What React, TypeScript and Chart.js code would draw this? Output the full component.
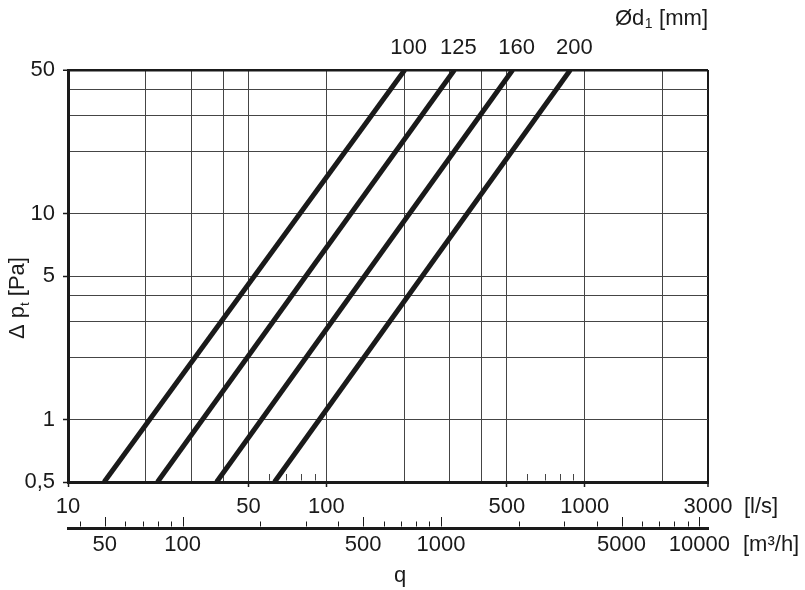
import React, { useEffect, useRef } from 'react';
import { Chart, registerables } from 'chart.js';

Chart.register(...registerables);

const FONT = '"Liberation Sans", Arial, Helvetica, sans-serif';
const INK = '#1a1a1a';
const GRID = '#454545';
const FONT_SIZE = 22;

// Duct diameters [mm] and the flow q [l/s] where each line meets Δp = 0.5 Pa and Δp = 50 Pa
const diameters = [100, 125, 160, 200];
const dpEnds = [0.5, 50];
const flowAtMinDp = [13.8, 22.2, 37.6, 63.0];
const flowAtMaxDp = [201, 313, 526, 879];

// Axis ranges
const X_MIN = 10;
const X_MAX = 3000;
const Y_MIN = 0.5;
const Y_MAX = 50;
const LS_TO_M3H = 3.6;

// Ticks / grid
const xTickValues = [10, 20, 30, 40, 50, 100, 200, 300, 400, 500, 1000, 2000, 3000];
const xLabelValues = [10, 50, 100, 500, 1000, 3000];
const xMinorValues = [60, 70, 80, 90, 600, 700, 800, 900];
const yTickValues = [0.5, 1, 2, 3, 4, 5, 10, 20, 30, 40, 50];
const yLabelValues = [0.5, 1, 5, 10, 50];
const m3hLabelValues = [50, 100, 500, 1000, 5000, 10000];
const m3hMinorValues = [40, 60, 70, 80, 90, 200, 300, 400, 600, 700, 800, 900, 2000, 3000, 4000, 6000, 7000, 8000, 9000];

const font = (size: number) => `${size}px ${FONT}`;

const X_TICK_PAD = 7;
const X2_TICK_PAD = 4;

const decorations = {
  id: 'decorations',
  afterDraw(chart: any) {
    const { ctx, chartArea: ca, scales } = chart;
    const sx = scales.x;
    const sy = scales.y;
    const sx2 = scales.x2;
    ctx.save();

    // short inner ticks on the l/s axis
    ctx.strokeStyle = GRID;
    ctx.lineWidth = 1;
    ctx.beginPath();
    xMinorValues.forEach((v) => {
      const px = Math.round(sx.getPixelForValue(v)) + 0.5;
      ctx.moveTo(px, ca.bottom - 1.5);
      ctx.lineTo(px, ca.bottom - 8);
    });
    ctx.stroke();

    // upward ticks on the m3/h axis
    const base = sx2.top - 1.5;
    ctx.strokeStyle = INK;
    ctx.lineWidth = 1;
    ctx.beginPath();
    m3hMinorValues.forEach((v) => {
      const px = Math.round(sx2.getPixelForValue(v)) + 0.5;
      ctx.moveTo(px, base);
      ctx.lineTo(px, base - 5);
    });
    m3hLabelValues.forEach((v) => {
      const px = Math.round(sx2.getPixelForValue(v)) + 0.5;
      ctx.moveTo(px, base);
      ctx.lineTo(px, base - 9.5);
    });
    ctx.stroke();

    ctx.fillStyle = INK;
    ctx.font = font(FONT_SIZE);
    ctx.textBaseline = 'middle';

    // unit labels
    ctx.textAlign = 'left';
    ctx.fillText('[l/s]', ca.right + 36, sx.top + 5 + X_TICK_PAD + FONT_SIZE * 0.6);
    ctx.fillText('[m³/h]', ca.right + 35, sx2.top + X2_TICK_PAD + FONT_SIZE * 0.6);

    // q title
    ctx.textAlign = 'center';
    ctx.textBaseline = 'alphabetic';
    ctx.fillText('q', 400, 582);

    // diameter labels above the lines
    ctx.textBaseline = 'middle';
    ctx.textAlign = 'center';
    diameters.forEach((d, i) => {
      const px = sx.getPixelForValue(flowAtMaxDp[i]) + 4;
      ctx.fillText(String(d), px, ca.top - 22);
    });

    // Ød1 [mm]
    {
      const big = font(FONT_SIZE);
      const small = font(14);
      ctx.textAlign = 'left';
      ctx.font = big;
      const w1 = ctx.measureText('Ød').width;
      const w3 = ctx.measureText(' [mm]').width;
      ctx.font = small;
      const w2 = ctx.measureText('1').width + 1;
      let xs = ca.right - (w1 + w2 + w3);
      const yy = 19;
      ctx.font = big;
      ctx.fillText('Ød', xs, yy);
      xs += w1;
      ctx.font = small;
      ctx.fillText('1', xs + 0.5, yy + 5);
      xs += w2;
      ctx.font = big;
      ctx.fillText(' [mm]', xs, yy);
    }

    // y-axis title Δ p_t [Pa]
    {
      const big = font(FONT_SIZE);
      const small = font(13);
      ctx.save();
      ctx.translate(24, (sy.top + sy.bottom) / 2 + 22);
      ctx.rotate(-Math.PI / 2);
      ctx.textBaseline = 'alphabetic';
      ctx.textAlign = 'left';
      ctx.font = big;
      const w1 = ctx.measureText('Δ p').width;
      const w3 = ctx.measureText(' [Pa]').width;
      ctx.font = small;
      const w2 = ctx.measureText('t').width;
      let xs = -(w1 + w2 + w3) / 2;
      ctx.font = big;
      ctx.fillText('Δ p', xs, 0);
      xs += w1;
      ctx.font = small;
      ctx.fillText('t', xs, 5);
      xs += w2;
      ctx.font = big;
      ctx.fillText(' [Pa]', xs, 0);
      ctx.restore();
    }

    ctx.restore();
  },
};

export default function App() {
  const canvasRef = useRef<HTMLCanvasElement | null>(null);

  useEffect(() => {
    if (!canvasRef.current) return;
    const datasets = diameters.map((d, i) => ({
      label: `${d} mm`,
      data: [
        { x: flowAtMinDp[i], y: dpEnds[0] },
        { x: flowAtMaxDp[i], y: dpEnds[1] },
      ],
      showLine: true,
      borderColor: INK,
      backgroundColor: INK,
      borderWidth: 5,
      pointRadius: 0,
      fill: false,
      xAxisID: 'x',
      yAxisID: 'y',
    }));

    const tickFont = { family: FONT, size: FONT_SIZE };

    const chart = new Chart(canvasRef.current, {
      type: 'scatter',
      data: { datasets },
      options: {
        animation: false,
        responsive: false,
        devicePixelRatio: 1,
        layout: { padding: { top: 70, left: 8, right: 97, bottom: 0 } },
        plugins: { legend: { display: false }, tooltip: { enabled: false } },
        scales: {
          x: {
            type: 'logarithmic',
            position: 'bottom',
            weight: 0,
            min: X_MIN,
            max: X_MAX,
            afterBuildTicks: (s: any) => {
              s.ticks = xTickValues.map((v) => ({ value: v }));
            },
            afterFit: (s: any) => {
              s.height = 46;
            },
            grid: {
              color: (c: any) => {
                const v = c.tick ? c.tick.value : null;
                if (v === X_MIN) return 'rgba(0,0,0,0)';
                if (v === X_MAX) return INK;
                return GRID;
              },
              lineWidth: (c: any) => (c.tick && c.tick.value === X_MAX ? 2 : 1),
              drawTicks: true,
              tickLength: 5,
              tickWidth: 1.5,
              tickColor: (c: any) => (c.tick && xLabelValues.includes(c.tick.value) ? INK : 'rgba(0,0,0,0)'),
            },
            border: { color: INK, width: 3 },
            ticks: {
              autoSkip: false,
              maxRotation: 0,
              minRotation: 0,
              padding: X_TICK_PAD,
              color: INK,
              font: tickFont,
              callback: (v: any) => (xLabelValues.includes(Number(v)) ? String(v) : ''),
            },
          },
          x2: {
            type: 'logarithmic',
            position: 'bottom',
            weight: 1,
            min: X_MIN * LS_TO_M3H,
            max: X_MAX * LS_TO_M3H,
            afterBuildTicks: (s: any) => {
              s.ticks = m3hLabelValues.map((v) => ({ value: v }));
            },
            afterFit: (s: any) => {
              s.height = 62;
            },
            grid: { drawOnChartArea: false, drawTicks: false },
            border: { color: INK, width: 3 },
            ticks: {
              autoSkip: false,
              maxRotation: 0,
              minRotation: 0,
              padding: X2_TICK_PAD,
              color: INK,
              font: tickFont,
              callback: (v: any) => String(v),
            },
          },
          y: {
            type: 'logarithmic',
            position: 'left',
            min: Y_MIN,
            max: Y_MAX,
            afterBuildTicks: (s: any) => {
              s.ticks = yTickValues.map((v) => ({ value: v }));
            },
            afterFit: (s: any) => {
              s.width = 60;
            },
            grid: {
              color: (c: any) => {
                const v = c.tick ? c.tick.value : null;
                if (v === Y_MIN) return 'rgba(0,0,0,0)';
                if (v === Y_MAX) return INK;
                return GRID;
              },
              lineWidth: (c: any) => (c.tick && c.tick.value === Y_MAX ? 2.5 : 1),
              drawTicks: true,
              tickLength: 5,
              tickWidth: 1.5,
              tickColor: (c: any) => (c.tick && yLabelValues.includes(c.tick.value) ? INK : 'rgba(0,0,0,0)'),
            },
            border: { color: INK, width: 3 },
            ticks: {
              autoSkip: false,
              padding: 8,
              color: INK,
              font: tickFont,
              callback: (v: any) => (yLabelValues.includes(Number(v)) ? String(v).replace('.', ',') : ''),
            },
          },
        },
      },
      plugins: [decorations],
    } as any);

    return () => chart.destroy();
  }, []);

  return (
    <div style={{ position: 'fixed', left: 0, top: 0, width: 805, height: 590, background: '#fff' }}>
      <canvas ref={canvasRef} width={805} height={590} style={{ display: 'block' }} />
    </div>
  );
}
